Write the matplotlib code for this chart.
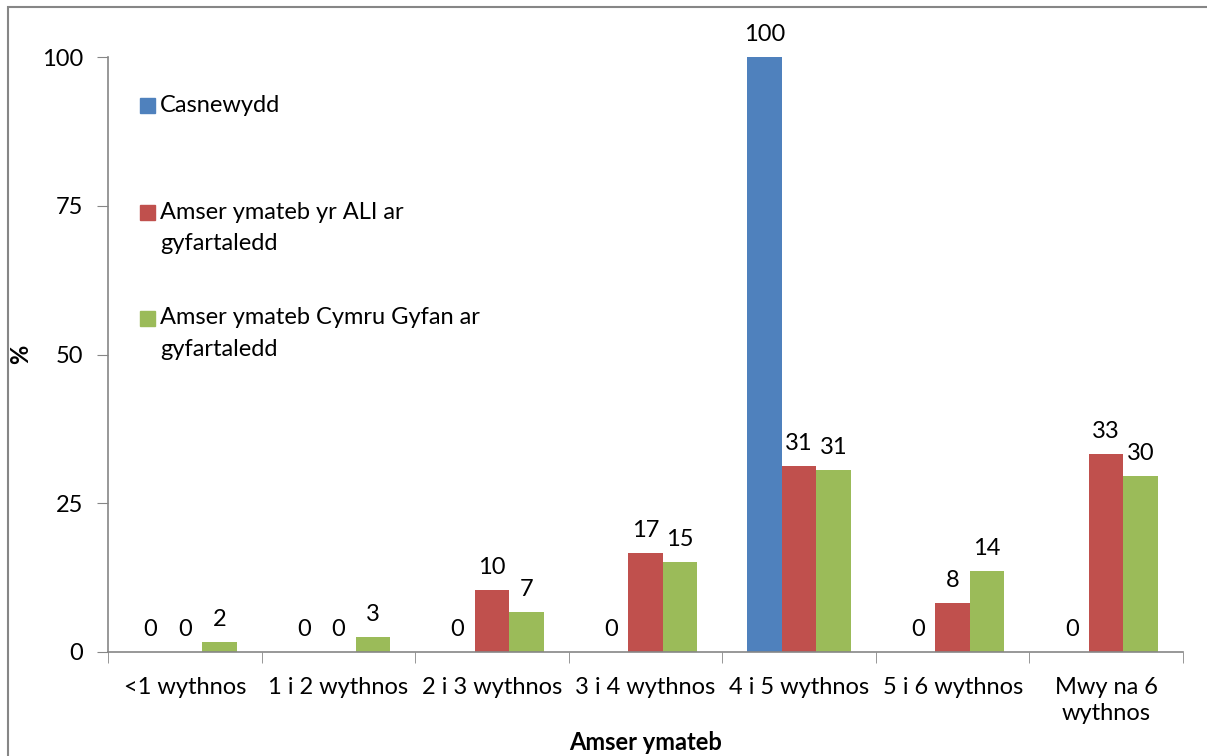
import matplotlib.pyplot as plt
import numpy as np

categories = ["<1 wythnos", "1 i 2 wythnos", "2 i 3 wythnos", "3 i 4 wythnos",
              "4 i 5 wythnos", "5 i 6 wythnos", "Mwy na 6\nwythnos"]
casnewydd = [0, 0, 0, 0, 100, 0, 0]
ali = [0, 0, 10.4, 16.7, 31.3, 8.3, 33.3]
cymru = [1.7, 2.6, 6.7, 15.2, 30.6, 13.6, 29.6]
series_names = ["Casnewydd", "Amser ymateb yr ALI ar\ngyfartaledd",
                "Amser ymateb Cymru Gyfan ar\ngyfartaledd"]
colors = ["#4F81BD", "#C0504D", "#9BBB59"]

plt.rcParams['font.family'] = ['Lato', 'DejaVu Sans']
plt.rcParams['font.size'] = 17

fig = plt.figure(figsize=(12.07, 7.56), dpi=100)
ax = fig.add_axes([108 / 1207, 1 - 652 / 756, (1183 - 108) / 1207, (652 - 57) / 756])

x = np.arange(len(categories))
w = 0.225
for i, (vals, c) in enumerate(zip([casnewydd, ali, cymru], colors)):
    pos = x + (i - 1) * w
    ax.bar(pos, vals, width=w, color=c)
    for p, v in zip(pos, vals):
        ax.text(p, v + 2.0, "%.0f" % v, ha="center", va="bottom")

ax.set_xlim(-0.5, len(categories) - 0.5)
ax.set_ylim(0, 100)
ax.set_yticks([0, 25, 50, 75, 100])
ax.set_xticks(np.arange(len(categories) + 1) - 0.5, minor=True)
ax.set_xticks(x)
ax.set_xticklabels(categories, linespacing=1.3)
ax.tick_params(axis="x", which="major", length=0, pad=18)
ax.tick_params(axis="x", which="minor", length=8, color="#868686")
ax.tick_params(axis="y", length=8, color="#868686", pad=10)
for s in ["top", "right"]:
    ax.spines[s].set_visible(False)
for s in ["left", "bottom"]:
    ax.spines[s].set_color("#868686")
    ax.spines[s].set_linewidth(1.2)

ax.set_xlabel("Amser ymateb", fontweight="bold")
ax.xaxis.set_label_coords(0.5, (652 - 731) / 595)
ax.set_ylabel("%", fontweight="bold")
ax.yaxis.set_label_coords((32 - 108) / 1075, 0.5)

# legend drawn as squares + text so the square sits on the first line
legend_y = [0.918, 0.739, 0.561]
for name, c, ly in zip(series_names, colors, legend_y):
    ax.add_patch(plt.Rectangle((0.0298, ly - 0.0126), 0.014, 0.0252,
                               transform=ax.transAxes, color=c, clip_on=False))
    ax.text(0.0484, ly + 0.018, name, transform=ax.transAxes, va="top",
            ha="left", linespacing=1.6)

fig.patches.append(plt.Rectangle((8 / 1207, -0.01), 1.1, 1 - 7 / 756 + 0.01,
                                 transform=fig.transFigure, fill=False,
                                 edgecolor="#868686", linewidth=1.5))

plt.savefig("out.png", dpi=100)
